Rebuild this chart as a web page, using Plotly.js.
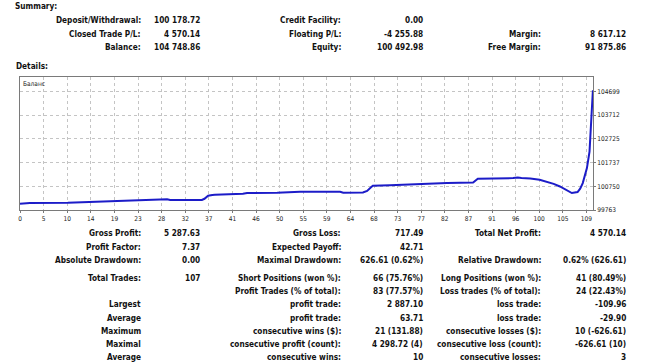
<!DOCTYPE html>
<html>
<head>
<meta charset="utf-8">
<script src="https://cdn.plot.ly/plotly-3.0.1.min.js"></script>
<style>
html,body{margin:0;padding:0;background:#fff;}
#chart{width:650px;height:363px;}
</style>
</head>
<body>
<div id="chart"></div>
<script>
// ---- data ----
const balanceX = [0, 1.9, 9.2, 13.9, 17.7, 21.2, 26.6, 28.3, 28.9, 34.1, 35.0, 35.5, 36.2, 37.0, 37.5, 42.9, 43.7, 49.5, 53.9, 61.6, 62.2, 66.0, 66.8, 67.5, 67.9, 71.2, 73.1, 77.0, 77.4, 82.2, 87.2, 88.1, 94.9, 95.8, 96.5, 98.2, 100.0, 101.4, 102.7, 103.9, 105.0, 106.2, 107.3, 107.8, 108.3, 108.7, 109.1, 109.6, 109.9, 110.2, 110.25];
const balanceY = [100023, 100052, 100064, 100106, 100118, 100160, 100202, 100210, 100177, 100168, 100180, 100230, 100357, 100390, 100397, 100438, 100468, 100480, 100522, 100522, 100480, 100493, 100560, 100700, 100771, 100792, 100813, 100825, 100854, 100883, 100908, 101062, 101091, 101116, 101095, 101075, 101020, 100937, 100850, 100742, 100610, 100468, 100510, 100650, 100883, 101150, 101506, 102196, 103166, 104263, 104749];
const xTickLabels = ['0','5','10','14','19','23','28','32','37','41','46','50','55','59','64','68','73','77','82','87','91','96','100','105','109'];
const yTickValues = [99763, 100750, 101737, 102725, 103712, 104699];
const seriesName = 'Баланс';

const summaryLabels1 = ['Deposit/Withdrawal:', 'Closed Trade P/L:', 'Balance:'];
const summaryValues1 = ['100 178.72', '4 570.14', '104 748.86'];
const summaryLabels2 = ['Credit Facility:', 'Floating P/L:', 'Equity:'];
const summaryValues2 = ['0.00', '-4 255.88', '100 492.98'];
const summaryLabels3 = ['', 'Margin:', 'Free Margin:'];
const summaryValues3 = ['', '8 617.12', '91 875.86'];

const detailLabels1 = ['Gross Profit:', 'Profit Factor:', 'Absolute Drawdown:', 'Total Trades:', '', 'Largest', 'Average', 'Maximum', 'Maximal', 'Average'];
const detailValues1 = ['5 287.63', '7.37', '0.00', '107', '', '', '', '', '', ''];
const detailLabels2 = ['Gross Loss:', 'Expected Payoff:', 'Maximal Drawdown:', 'Short Positions (won %):', 'Profit Trades (% of total):', 'profit trade:', 'profit trade:', 'consecutive wins ($):', 'consecutive profit (count):', 'consecutive wins:'];
const detailValues2 = ['717.49', '42.71', '626.61 (0.62%)', '66 (75.76%)', '83 (77.57%)', '2 887.10', '63.71', '21 (131.88)', '4 298.72 (4)', '10'];
const detailLabels3 = ['Total Net Profit:', '', 'Relative Drawdown:', 'Long Positions (won %):', 'Loss trades (% of total):', 'loss trade:', 'loss trade:', 'consecutive losses ($):', 'consecutive loss (count):', 'consecutive losses:'];
const detailValues3 = ['4 570.14', '', '0.62% (626.61)', '41 (80.49%)', '24 (22.43%)', '-109.96', '-29.90', '10 (-626.61)', '-626.61 (10)', '3'];

// ---- layout geometry ----
const W = 650, H = 363;
const ML = 20, MR = 57, MT = 77, MB = 153;
const PW = W - ML - MR, PH = H - MT - MB;
const px = x => (x - ML) / PW;
const py = y => 1 - (y - MT) / PH;

const FONT = 'DejaVu Sans Condensed, DejaVu Sans, sans-serif';
const txtFont = {family: FONT, size: 8.2, color: '#111', weight: 'bold'};

const annotations = [];
function addText(text, x, y, anchor) {
  if (!text) return;
  annotations.push({
    text: text, xref: 'paper', yref: 'paper', x: px(x), y: py(y),
    xanchor: anchor, yanchor: 'middle', showarrow: false,
    font: txtFont, borderpad: 0
  });
}
addText('Summary:', 14, 6, 'left');
addText('Details:', 15, 66, 'left');

const colRight = [142, 201, 342, 424, 542, 627];
const summaryRowsY = [20, 34, 47];
const detailRowsY = [233, 246.5, 259.5, 277.5, 291, 304, 317.5, 330.5, 343.5, 356.5];

function addTable(cols, rowsY) {
  cols.forEach((col, ci) => {
    col.forEach((t, ri) => addText(t, colRight[ci], rowsY[ri], 'right'));
  });
}
addTable([summaryLabels1, summaryValues1, summaryLabels2, summaryValues2, summaryLabels3, summaryValues3], summaryRowsY);
addTable([detailLabels1, detailValues1, detailLabels2, detailValues2, detailLabels3, detailValues3], detailRowsY);

annotations.push({
  text: seriesName, xref: 'x domain', yref: 'y domain', x: 0, y: 1,
  xanchor: 'left', yanchor: 'top', xshift: 2, yshift: -2, showarrow: false,
  font: {family: FONT, size: 6.5, color: '#222'}, borderpad: 0
});

const xTickVals = xTickLabels.map((_, i) => i * 109 / 24);

const trace = {
  x: balanceX, y: balanceY, type: 'scatter', mode: 'lines',
  line: {color: '#1c1cc8', width: 2}, hoverinfo: 'skip', name: seriesName
};

const layout = {
  width: W, height: H,
  margin: {l: ML, r: MR, t: MT, b: MB, pad: 0},
  paper_bgcolor: '#fff', plot_bgcolor: '#fff',
  showlegend: false,
  xaxis: {
    range: [0, 110.27], tickvals: xTickVals, ticktext: xTickLabels,
    showgrid: true, gridcolor: '#c4c4c4', griddash: 'dot', gridwidth: 1,
    zeroline: false, showline: true, mirror: true, linecolor: '#7a7a7a', linewidth: 1,
    ticks: 'outside', ticklen: 2, tickcolor: '#7a7a7a',
    tickfont: {family: FONT, size: 6.5, color: '#222'}, fixedrange: true
  },
  yaxis: {
    range: [99763, 105300], side: 'right', tickvals: yTickValues,
    ticktext: yTickValues.map(String),
    showgrid: true, gridcolor: '#c4c4c4', griddash: 'dot', gridwidth: 1,
    zeroline: false, showline: true, mirror: true, linecolor: '#7a7a7a', linewidth: 1,
    ticks: 'outside', ticklen: 2, tickcolor: '#7a7a7a',
    tickfont: {family: FONT, size: 6.5, color: '#222'}, fixedrange: true
  },
  annotations: annotations
};

Plotly.newPlot('chart', [trace], layout, {staticPlot: true, displayModeBar: false});
</script>
</body>
</html>
